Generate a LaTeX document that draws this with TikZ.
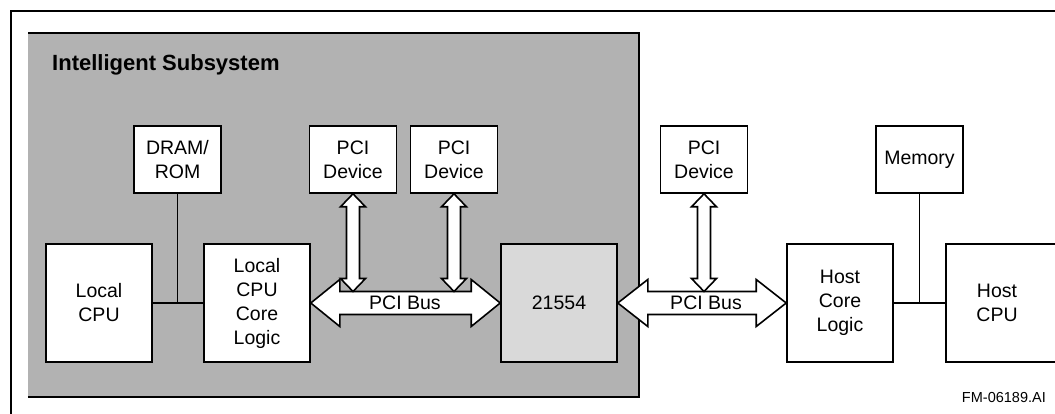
\documentclass[tikz,border=0pt]{standalone}
\usepackage{fontspec}
\setmainfont{Liberation Sans}
\usepackage{xcolor}
\usetikzlibrary{calc}
\definecolor{subgray}{gray}{0.70}
\definecolor{chipgray}{gray}{0.85}

\begin{document}
\begin{tikzpicture}[x=1pt,y=1pt]
\tikzstyle{every node}+=[inner sep=0pt]
\tikzstyle{blk}=[draw=black,fill=white,line width=1.6pt,align=center,font=\fontsize{19.5}{24}\selectfont]
\tikzstyle{smallblk}=[blk,minimum width=87,minimum height=67]
\tikzstyle{bigblk}=[blk,minimum width=106,minimum height=118]
\tikzstyle{bus}=[draw=black,fill=white,line width=1.6pt,line join=miter]
\tikzstyle{wire}=[black,line width=1.3pt]
\path [use as bounding box,clip] (0,0) rectangle (1055,-414);
\draw [black,line width=2.4pt] (11,-11) rectangle (1090,-440);
\node [fill=subgray,minimum width=611,minimum height=364] (subsys) at (333.5,-215) {};
\draw [black,line width=2.2pt] (subsys.south west) -- (subsys.south east) -- (subsys.north east) -- (subsys.north west);
\node [anchor=west,font=\fontsize{22}{26}\selectfont\bfseries] (title) at (52,-65) {Intelligent Subsystem};
\node [smallblk] (dram) at (177.5,-159.5) {DRAM/\\ROM};
\node [smallblk] (dev1) at (353,-159.5) {PCI\\Device};
\node [smallblk] (dev2) at (454,-159.5) {PCI\\Device};
\node [smallblk] (dev3) at (704,-159.5) {PCI\\Device};
\node [smallblk] (mem) at (919.5,-159.5) {Memory};
\node [bigblk] (lcpu) at (99,-303) {Local\\CPU};
\node [bigblk] (lcl) at (257,-303) {Local\\CPU\\Core\\Logic};
\node [bigblk,fill=chipgray,minimum width=116] (chip) at (559,-303) {21554};
\node [bigblk] (hcl) at (840,-303) {Host\\Core\\Logic};
\node [bigblk,minimum width=130] (hcpu) at (1011,-303) {};
\node [font=\fontsize{19.5}{24}\selectfont,align=center] (hcpulbl) at (997,-303) {Host\\CPU};
\draw [wire] (lcpu) -- (lcl);
\draw [wire] (dram.south) -- (dram.south |- lcl.west);
\draw [wire] (hcl) -- (hcpu);
\draw [wire] (mem.south) -- (mem.south |- hcl.east);
\draw [bus] (lcl.east) -- ++(29,23.5) -- ++(0,-12) -- ($(chip.west)+(-29,11.5)$) -- ++(0,12) -- (chip.west) -- ++(-29,-23.5) -- ++(0,12) -- ($(lcl.east)+(29,-11.5)$) -- ++(0,-12) -- cycle;
\draw [bus] (chip.east) -- ++(30,23.5) -- ++(0,-12) -- ($(hcl.west)+(-30,11.5)$) -- ++(0,12) -- (hcl.west) -- ++(-30,-23.5) -- ++(0,12) -- ($(chip.east)+(30,-11.5)$) -- ++(0,-12) -- cycle;
\coordinate (b1) at (dev1.south |- 0,-291.5);
\coordinate (b2) at (dev2.south |- 0,-291.5);
\coordinate (b3) at (dev3.south |- 0,-291.5);
\draw [bus] (dev1.south) -- ++(12.5,-13) -- ++(-6,0) -- ($(b1)+(6.5,13)$) -- ++(6,0) -- (b1) -- ++(-12.5,13) -- ++(6,0) -- ($(dev1.south)+(-6.5,-13)$) -- ++(-6,0) -- cycle;
\draw [bus] (dev2.south) -- ++(12.5,-13) -- ++(-6,0) -- ($(b2)+(6.5,13)$) -- ++(6,0) -- (b2) -- ++(-12.5,13) -- ++(6,0) -- ($(dev2.south)+(-6.5,-13)$) -- ++(-6,0) -- cycle;
\draw [bus] (dev3.south) -- ++(12.5,-13) -- ++(-6,0) -- ($(b3)+(6.5,13)$) -- ++(6,0) -- (b3) -- ++(-12.5,13) -- ++(6,0) -- ($(dev3.south)+(-6.5,-13)$) -- ++(-6,0) -- cycle;
\node [font=\fontsize{19.5}{24}\selectfont] (lbus) at (405,-303) {PCI Bus};
\node [font=\fontsize{19.5}{24}\selectfont] (hbus) at (706,-303) {PCI Bus};
\node [anchor=east,font=\fontsize{14.5}{17}\selectfont] (figid) at (1046,-398) {FM-06189.AI};
\end{tikzpicture}
\end{document}
